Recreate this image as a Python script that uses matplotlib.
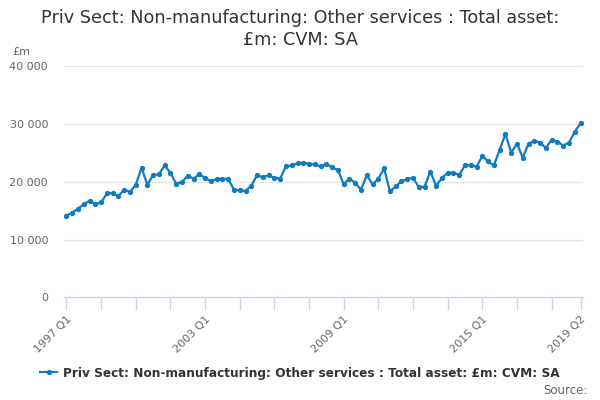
import matplotlib
matplotlib.use("Agg")
import matplotlib.pyplot as plt
from matplotlib.lines import Line2D

start_year = 1997
quarters = [f"{start_year + i // 4} Q{i % 4 + 1}" for i in range(90)]

values = [
    14140, 14670, 15370, 16130, 16710, 16130, 16420, 17990, 18050, 17530,
    18640, 18230, 19510, 22430, 19510, 21140, 21310, 22830, 21550, 19630,
    20000, 21030, 20560, 21310, 20680, 20090, 20500, 20500, 20500, 18640,
    18520, 18400, 19340, 21140, 20790, 21140, 20680, 20560, 22710, 22830,
    23180, 23300, 23120, 23000, 22660, 23120, 22480, 22010, 19570, 20560,
    19800, 18640, 21140, 19570, 20560, 22310, 18340, 19210, 20090, 20440,
    20730, 19040, 19160, 21780, 19280, 20680, 21550, 21610, 21200, 22830,
    22890, 22600, 24460, 23530, 22830, 25570, 28250, 25050, 26620, 24170,
    26620, 27090, 26800, 25860, 27320, 26970, 26280, 26800, 28660, 30120,
]

label_quarters = ["1997 Q1", "2003 Q1", "2009 Q1", "2015 Q1", "2019 Q2"]
y_ticks = [0, 10000, 20000, 30000, 40000]
series_name = "Priv Sect: Non-manufacturing: Other services : Total asset: £m: CVM: SA"
title = "Priv Sect: Non-manufacturing: Other services : Total asset:\n£m: CVM: SA"

line_color = "#0f7bc0"
axis_color = "#ccd6eb"
grid_color = "#e6e6e6"

fig = plt.figure(figsize=(6, 4), dpi=100)
W, H = 600, 400
left, right, top, bottom = 64, 583, 66.3, 297.3
ax = fig.add_axes([left / W, 1 - bottom / H, (right - left) / W, (bottom - top) / H])

x = list(range(len(values)))
ax.plot(x, values, color=line_color, lw=1.6, marker="o", ms=2.8, zorder=3)

ax.set_ylim(0, 40000)
ax.set_yticks(y_ticks)
ax.set_yticklabels([f"{v:,}".replace(",", " ") for v in y_ticks])
ax.set_xlim(-0.43, len(values) - 1 + 0.43)

minor = list(range(0, len(values), 6)) + [len(values) - 1]
ax.set_xticks(minor)
ax.set_xticklabels([q if q in label_quarters else "" for q in (quarters[i] for i in minor)],
                   rotation=45, ha="right", rotation_mode="anchor")

ax.grid(axis="y", color=grid_color, lw=1)
ax.set_axisbelow(True)
for s in ["top", "right", "left"]:
    ax.spines[s].set_visible(False)
ax.spines["bottom"].set_color(axis_color)
ax.spines["bottom"].set_linewidth(1)
ax.tick_params(axis="x", colors=axis_color, length=9, width=1, labelcolor="#666666",
               labelsize=8, pad=3)
ax.tick_params(axis="y", length=0, labelcolor="#666666", labelsize=8, pad=11.5)

fig.text(0.5, 1 - 29 / H, title, ha="center", va="center", fontsize=12.7, color="#333333",
         linespacing=1.25)
fig.text(12 / W, 1 - 52 / H, "£m", ha="left", va="center", fontsize=8, color="#666666")

leg_handle = Line2D([0], [0], color=line_color, lw=1.6, marker="o", ms=2.8)
fig.legend([leg_handle], [series_name], loc="center", bbox_to_anchor=(300 / W, 1 - 373 / H),
           frameon=False, prop={"weight": "bold", "size": 8.7}, labelcolor="#333333",
           handlelength=1.4, handletextpad=0.5)
fig.text(588 / W, 1 - 390 / H, "Source:", ha="right", va="center", fontsize=8.5, color="#666666")

fig.savefig("out.png", dpi=100)
